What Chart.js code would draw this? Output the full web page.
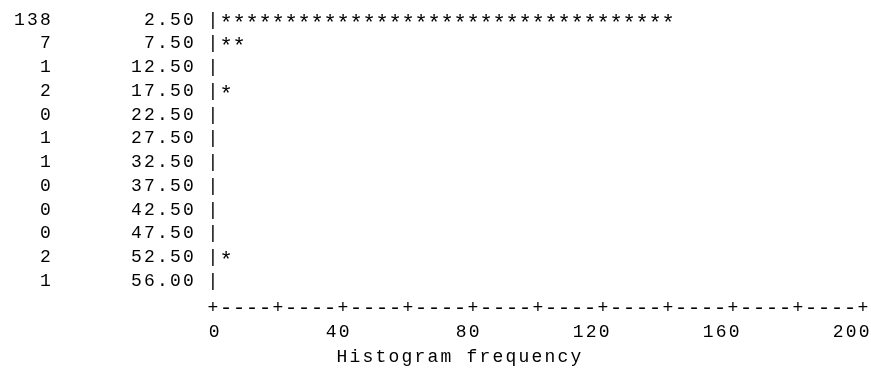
<!DOCTYPE html>
<html>
<head>
<meta charset="utf-8">
<script src="https://cdn.jsdelivr.net/npm/chart.js@4"></script>
<style>
  html, body { margin: 0; padding: 0; background: #fff; }
  #wrap { width: 871px; height: 370px; }
</style>
</head>
<body>
<div id="wrap"><canvas id="hist" width="871" height="370"></canvas></div>
<script>
// histogram bins (midpoints) and their frequencies, top to bottom
const midpoints = ['2.50', '7.50', '12.50', '17.50', '22.50', '27.50', '32.50', '37.50', '42.50', '47.50', '52.50', '56.00'];
const frequencies = [138, 7, 1, 2, 0, 1, 1, 0, 0, 0, 2, 1];
const freqTicks = [0, 40, 80, 120, 160, 200];
const axisTitle = 'Histogram frequency';
const unitsPerStar = 4;   // one '*' (one character column) = 4 counts
const plusEvery = 20;     // '+' on the axis every 5 columns

const FONT = '"Liberation Mono", "DejaVu Sans Mono", monospace';
const SPACING = '2.2px';  // widen 18px mono to the 13px column pitch of the original

// draws the line-printer look: pipes, stars, the +----+ axis and the title
const asciiPlot = {
    id: 'asciiPlot',
    beforeDraw(chart) {
        chart.ctx.letterSpacing = SPACING;
    },
    afterDatasetsDraw(chart) {
        const ctx = chart.ctx;
        const x = chart.scales.x;
        const bars = chart.getDatasetMeta(0).data;
        const x0 = x.getPixelForValue(0);

        ctx.save();
        ctx.letterSpacing = '0px';
        ctx.fillStyle = '#000';
        ctx.textAlign = 'center';
        ctx.textBaseline = 'middle';

        bars.forEach((bar, i) => {
            ctx.font = '18px ' + FONT;
            ctx.fillText('|', x0, bar.y);
            ctx.font = '22px ' + FONT;
            const n = Math.round(frequencies[i] / unitsPerStar);
            for (let k = 1; k <= n; k++) {
                ctx.fillText('*', x.getPixelForValue(k * unitsPerStar), bar.y + 4);
            }
        });

        const yLine = chart.chartArea.bottom + 15;
        for (let v = x.min; v <= x.max; v += unitsPerStar) {
            const plus = v % plusEvery === 0;
            ctx.font = (plus ? '18px ' : '21px ') + FONT;
            ctx.fillText(plus ? '+' : '-', x.getPixelForValue(v), yLine);
        }

        ctx.font = '18px ' + FONT;
        ctx.letterSpacing = SPACING;
        ctx.textAlign = 'left';
        ctx.fillText(axisTitle, x.getPixelForValue(freqTicks[1]) - 6.5, chart.height - 13);
        ctx.restore();
    }
};

const tickFont = { family: FONT, size: 18 };

// fixed box size, no extra label overhang padding
function fixBox(w, h) {
    return s => {
        if (w) s.width = w;
        if (h) s.height = h;
        s.paddingTop = s.paddingBottom = s.paddingLeft = s.paddingRight = 0;
    };
}

new Chart(document.getElementById('hist'), {
    type: 'bar',
    data: {
        labels: midpoints,
        datasets: [{
            data: frequencies,
            backgroundColor: 'rgba(0,0,0,0)',
            borderWidth: 0
        }]
    },
    options: {
        indexAxis: 'y',
        responsive: false,
        animation: false,
        layout: { padding: { top: 8, right: 8, left: 0, bottom: 0 } },
        plugins: {
            legend: { display: false },
            tooltip: { enabled: false }
        },
        scales: {
            x: {
                type: 'linear',
                position: 'bottom',
                min: 0,
                max: 200,
                grid: { display: false, drawTicks: false },
                border: { display: false },
                ticks: {
                    align: 'end',
                    labelOffset: 8.7,
                    padding: 28,
                    maxRotation: 0,
                    autoSkip: false,
                    color: '#000',
                    font: tickFont
                },
                afterBuildTicks: s => { s.ticks = freqTicks.map(v => ({ value: v })); },
                afterFit: fixBox(0, 77)
            },
            y: {
                type: 'category',
                position: 'left',
                weight: 0,
                grid: { display: false, drawTicks: false },
                border: { display: false },
                ticks: { padding: 17, autoSkip: false, color: '#000', font: tickFont },
                afterFit: fixBox(153, 0)
            },
            yCount: {
                type: 'category',
                position: 'left',
                weight: 1,
                labels: frequencies.map(String),
                grid: { display: false, drawTicks: false },
                border: { display: false },
                ticks: { padding: 7, autoSkip: false, color: '#000', font: tickFont },
                afterFit: fixBox(60, 0)
            }
        }
    },
    plugins: [asciiPlot]
});
</script>
</body>
</html>
